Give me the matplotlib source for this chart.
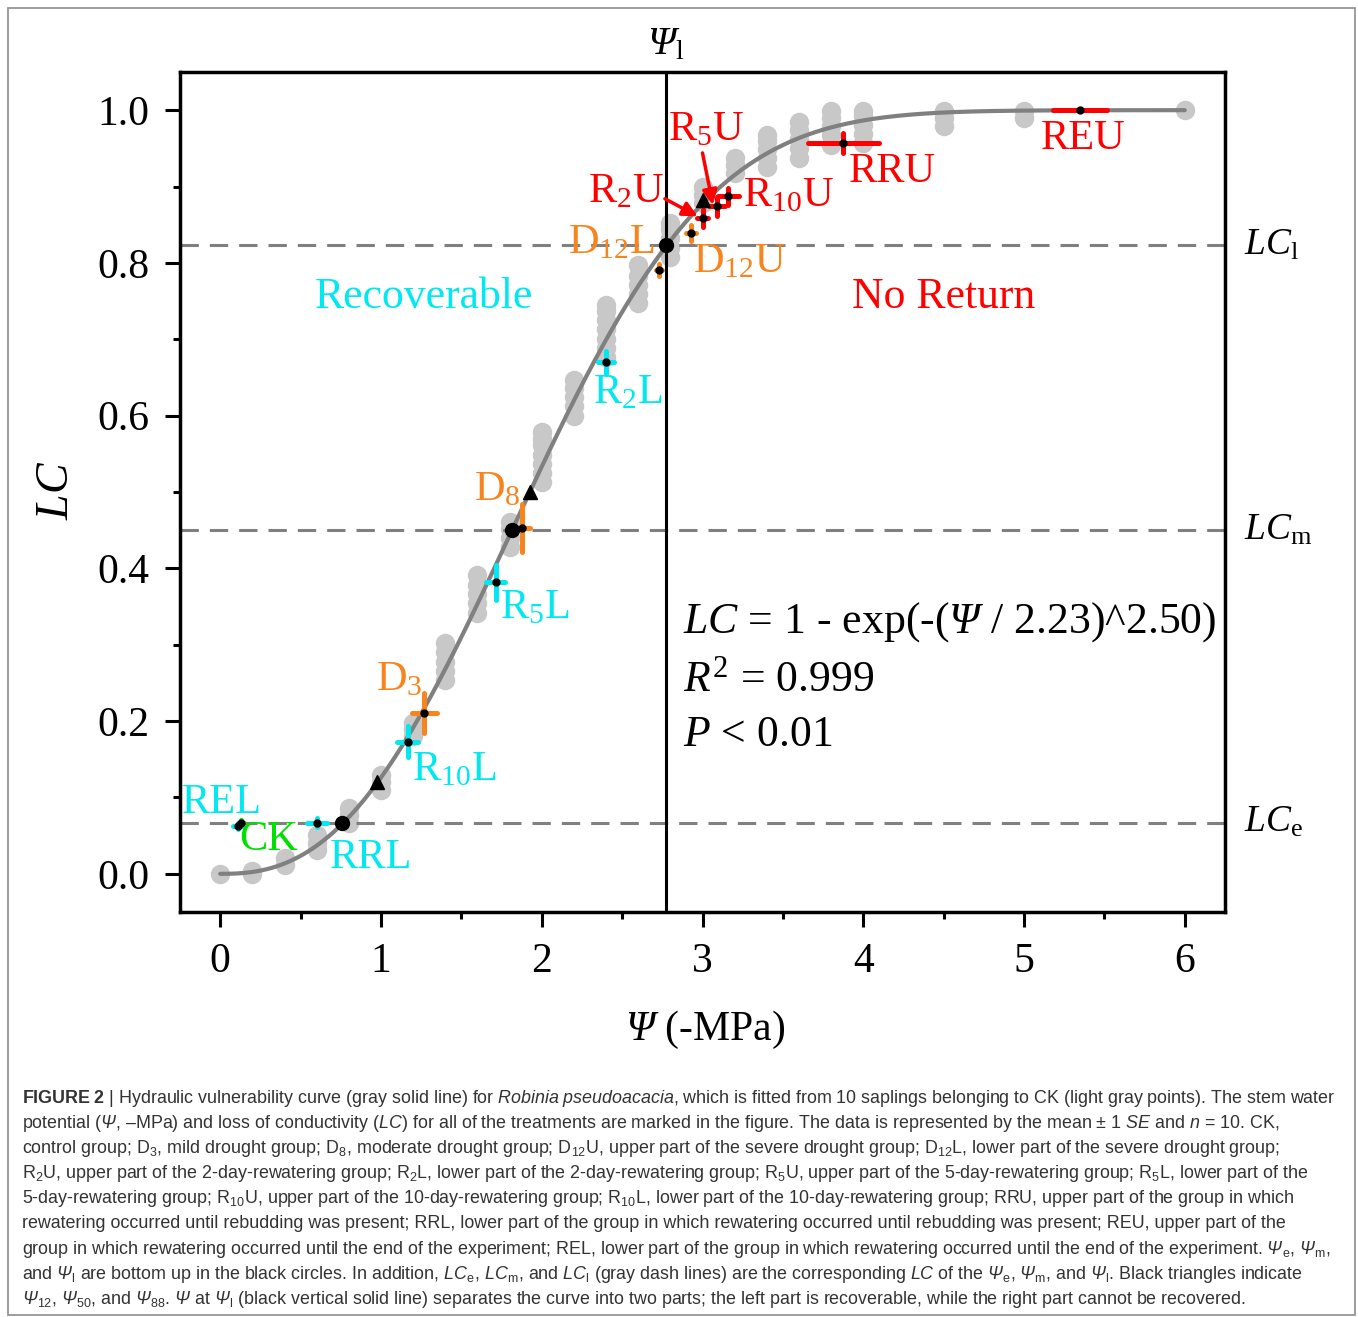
import numpy as np
import matplotlib
matplotlib.use('Agg')
import matplotlib.pyplot as plt
from matplotlib.patches import Rectangle

plt.rcParams['font.family'] = ['Liberation Serif', 'DejaVu Serif']
plt.rcParams['mathtext.fontset'] = 'custom'
plt.rcParams['mathtext.default'] = 'regular'
plt.rcParams['mathtext.rm'] = 'Liberation Serif'
plt.rcParams['mathtext.it'] = 'Liberation Serif:italic'
plt.rcParams['mathtext.cal'] = 'Liberation Serif:italic'   # italic serif Psi
plt.rcParams['mathtext.sf'] = 'Liberation Sans:italic'     # italic sans (caption)
plt.rcParams['mathtext.bf'] = 'Liberation Sans:bold'

# ── fitted curve parameters (as printed on the chart)
fit_b = 2.23
fit_c = 2.50

# ── CK sapling points (light gray), LC values per water potential level
ck_psi = [0.0, 0.2, 0.4, 0.6, 0.8, 1.0, 1.2, 1.4, 1.6, 1.8, 2.0, 2.2,
          2.4, 2.6, 2.8, 3.0, 3.2, 3.4, 3.6, 3.8, 4.0, 4.5, 5.0, 6.0]
ck_lc = [
    [0.0],
    [0.0, 0.004],
    [0.012, 0.021],
    [0.031, 0.041, 0.051],
    [0.067, 0.077, 0.086],
    [0.110, 0.120, 0.130],
    [0.180, 0.190, 0.198],
    [0.254, 0.266, 0.278, 0.290, 0.302],
    [0.342, 0.354, 0.366, 0.378, 0.391],
    [0.428, 0.440, 0.452, 0.461],
    [0.513, 0.525, 0.537, 0.549, 0.561, 0.570, 0.579],
    [0.600, 0.612, 0.624, 0.636, 0.647],
    [0.677, 0.689, 0.701, 0.713, 0.725, 0.737, 0.745],
    [0.747, 0.759, 0.771, 0.783, 0.797],
    [0.808, 0.820, 0.832, 0.844, 0.852],
    [0.878, 0.889, 0.899],
    [0.918, 0.928, 0.938],
    [0.925, 0.937, 0.949, 0.960, 0.967],
    [0.938, 0.950, 0.962, 0.974, 0.984],
    [0.955, 0.967, 0.979, 0.990, 0.999],
    [0.957, 0.969, 0.981, 0.992, 0.999],
    [0.979, 0.990, 0.999],
    [0.990, 0.999],
    [1.0],
]

# ── Psi_e, Psi_m, Psi_l (black circles) and Psi_12, Psi_50, Psi_88 (triangles)
thr_psi = [0.76, 1.813, 2.773]
thr_lc = [0.0668, 0.450, 0.823]
tri_psi = [0.978, 1.925, 3.003]
tri_lc = [0.120, 0.500, 0.882]

# ── treatment means ± SE
trt_name = ['CK', 'REL', 'RRL', 'R10L', 'D3', 'R5L', 'D8', 'R2L',
            'D12L', 'D12U', 'R2U', 'R5U', 'R10U', 'RRU', 'REU']
trt_psi = [0.13, 0.108, 0.602, 1.167, 1.27, 1.713, 1.88, 2.40,
           2.73, 2.93, 3.00, 3.09, 3.16, 3.875, 5.346]
trt_lc = [0.066, 0.063, 0.0668, 0.173, 0.211, 0.382, 0.453, 0.670,
          0.791, 0.839, 0.859, 0.874, 0.887, 0.957, 1.0]
trt_psi_se = [0.02, 0.03, 0.06, 0.065, 0.08, 0.06, 0.045, 0.047,
              0.02, 0.03, 0.035, 0.05, 0.065, 0.22, 0.167]
trt_lc_se = [0.004, 0.004, 0.006, 0.02, 0.026, 0.023, 0.031, 0.015,
             0.008, 0.01, 0.012, 0.012, 0.011, 0.013, 0.0]
trt_color = ['#00E000', '#00E8F0', '#00E8F0', '#00E8F0', '#F8841E', '#00E8F0',
             '#F8841E', '#00E8F0', '#F8841E', '#F8841E', '#FF0000', '#FF0000',
             '#FF0000', '#FF0000', '#FF0000']

# label text and where it sits (data coords)
lab_text = {'CK': 'CK', 'REL': 'REL', 'RRL': 'RRL', 'R10L': 'R$_{10}$L',
            'D3': 'D$_{3}$', 'R5L': 'R$_{5}$L', 'D8': 'D$_{8}$', 'R2L': 'R$_{2}$L',
            'D12L': 'D$_{12}$L', 'D12U': 'D$_{12}$U', 'R2U': 'R$_{2}$U',
            'R5U': 'R$_{5}$U', 'R10U': 'R$_{10}$U', 'RRU': 'RRU', 'REU': 'REU'}
lab_x = {'CK': 0.118, 'REL': -0.237, 'RRL': 0.68, 'R10L': 1.196, 'D3': 0.972,
         'R5L': 1.738, 'D8': 1.576, 'R2L': 2.318, 'D12L': 2.162, 'D12U': 2.94,
         'R2U': 2.287, 'R5U': 2.785, 'R10U': 3.252, 'RRU': 3.907, 'REU': 5.103}
lab_y = {'CK': 0.045, 'REL': 0.093, 'RRL': 0.021, 'R10L': 0.136, 'D3': 0.254,
         'R5L': 0.348, 'D8': 0.503, 'R2L': 0.630, 'D12L': 0.826, 'D12U': 0.801,
         'R2U': 0.893, 'R5U': 0.974, 'R10U': 0.887, 'RRU': 0.919, 'REU': 0.963}

caption = [
    r"$\mathbf{FIGURE\ 2}$ | Hydraulic vulnerability curve (gray solid line) for $\mathsf{Robinia\ pseudoacacia}$, which is fitted from 10 saplings belonging to CK (light gray points). The stem water",
    r"potential ($\mathsf{\Psi}$, –MPa) and loss of conductivity ($\mathsf{LC}$) for all of the treatments are marked in the figure. The data is represented by the mean ± 1 $\mathsf{SE}$ and $\mathsf{n}$ = 10. CK,",
    r"control group; D$_{3}$, mild drought group; D$_{8}$, moderate drought group; D$_{12}$U, upper part of the severe drought group; D$_{12}$L, lower part of the severe drought group;",
    r"R$_{2}$U, upper part of the 2-day-rewatering group; R$_{2}$L, lower part of the 2-day-rewatering group; R$_{5}$U, upper part of the 5-day-rewatering group; R$_{5}$L, lower part of the",
    r"5-day-rewatering group; R$_{10}$U, upper part of the 10-day-rewatering group; R$_{10}$L, lower part of the 10-day-rewatering group; RRU, upper part of the group in which",
    "rewatering occurred until rebudding was present; RRL, lower part of the group in which rewatering occurred until rebudding was present; REU, upper part of the",
    r"group in which rewatering occurred until the end of the experiment; REL, lower part of the group in which rewatering occurred until the end of the experiment. $\mathsf{\Psi}_{e}$, $\mathsf{\Psi}_{m}$,",
    r"and $\mathsf{\Psi}_{l}$ are bottom up in the black circles. In addition, $\mathsf{LC}_{e}$, $\mathsf{LC}_{m}$, and $\mathsf{LC}_{l}$ (gray dash lines) are the corresponding $\mathsf{LC}$ of the $\mathsf{\Psi}_{e}$, $\mathsf{\Psi}_{m}$, and $\mathsf{\Psi}_{l}$. Black triangles indicate",
    r"$\mathsf{\Psi}_{12}$, $\mathsf{\Psi}_{50}$, and $\mathsf{\Psi}_{88}$. $\mathsf{\Psi}$ at $\mathsf{\Psi}_{l}$ (black vertical solid line) separates the curve into two parts; the left part is recoverable, while the right part cannot be recovered.",
]

W, H = 1358, 1317
fig = plt.figure(figsize=(W / 100, H / 100), dpi=100)
ax = fig.add_axes([180 / W, 1 - 912 / H, 1045 / W, 840 / H])

# gray sapling points
for p, vals in zip(ck_psi, ck_lc):
    ax.plot([p] * len(vals), vals, 'o', ms=14, color='#C8C8C8', mec='none', zorder=1)

# fitted curve
xx = np.linspace(0, 6, 400)
ax.plot(xx, 1 - np.exp(-(xx / fit_b) ** fit_c), color='#808080', lw=3, zorder=3,
        solid_capstyle='round')

# threshold lines
for v in thr_lc:
    ax.axhline(v, color='#808080', lw=2.2, dashes=(6, 3.6), zorder=2)
ax.axvline(thr_psi[2], color='black', lw=2.2, zorder=3)

# treatments
for i, name in enumerate(trt_name):
    eb = ax.errorbar(trt_psi[i], trt_lc[i], xerr=trt_psi_se[i], yerr=trt_lc_se[i],
                     fmt='o', ms=5, color='black', ecolor=trt_color[i],
                     elinewidth=3.6, capsize=0, zorder=4)
    for lc in eb[2]:
        lc.set_capstyle('round')
        lc.set_zorder(4)
    ax.text(lab_x[name], lab_y[name], lab_text[name], color=trt_color[i],
            fontsize=30.5, ha='left', va='center', zorder=6)

ax.plot(thr_psi, thr_lc, 'o', ms=10, color='black', zorder=5)
ax.plot(tri_psi, tri_lc, '^', ms=10, color='black', zorder=5)

# arrows for R2U and R5U
ax.annotate('', xy=(2.97, 0.861), xytext=(2.766, 0.884),
            arrowprops=dict(arrowstyle='-|>', color='#FF0000', lw=2.5,
                            mutation_scale=22, shrinkA=0, shrinkB=0), zorder=6)
ax.annotate('', xy=(3.065, 0.876), xytext=(3.0, 0.944),
            arrowprops=dict(arrowstyle='-|>', color='#FF0000', lw=2.5,
                            mutation_scale=22, shrinkA=0, shrinkB=0), zorder=6)

# region labels
ax.text(1.265, 0.755, 'Recoverable', color='#00E8F0', fontsize=31.5, ha='center', va='center')
ax.text(4.50, 0.755, 'No Return', color='#FF0000', fontsize=31.5, ha='center', va='center')

# equation block
ax.text(2.878, 0.330, r'$\mathit{LC}$ = 1 - exp(-($\mathcal{\Psi}$ / 2.23)^2.50)',
        fontsize=31.5, ha='left', va='center')
ax.text(2.878, 0.253, r'$\mathit{R}^{2}$ = 0.999', fontsize=31.5, ha='left', va='center')
ax.text(2.878, 0.182, r'$\mathit{P}$ < 0.01', fontsize=31.5, ha='left', va='center')

# right-hand LC labels and top Psi_l label
for v, s in zip(thr_lc, ['e', 'm', 'l']):
    ax.text(6.37, v, r'$\mathit{LC}_{%s}$' % s, fontsize=27, ha='left', va='center',
            clip_on=False)
ax.text(thr_psi[2], 1.085, r'$\mathcal{\Psi}_{l}$', fontsize=29, ha='center',
        va='center', clip_on=False)

# axes
ax.set_xlim(-0.25, 6.25)
ax.set_ylim(-0.05, 1.05)
ax.set_xticks(np.arange(0, 7, 1))
ax.set_xticks(np.arange(0.5, 6.5, 1), minor=True)
ax.set_yticks(np.arange(0, 1.01, 0.2))
ax.set_yticks(np.arange(0.1, 1.0, 0.2), minor=True)
ax.set_yticklabels(['0.0', '0.2', '0.4', '0.6', '0.8', '1.0'])
ax.tick_params(which='both', direction='out', width=2.2, labelsize=30)
ax.tick_params(which='major', length=11, pad=11)
ax.tick_params(which='minor', length=5)
for sp in ax.spines.values():
    sp.set_linewidth(2.5)

ax.set_xlabel(r'$\mathcal{\Psi}$ (-MPa)', fontsize=30)
ax.xaxis.set_label_coords(0.502, -0.14)
ax.xaxis.label.set_va('center')
ax.set_ylabel(r'$\mathit{LC}$', fontsize=33)
ax.yaxis.set_label_coords(-0.118, 0.502)
ax.yaxis.label.set_va('center')

# caption
for k, line in enumerate(caption):
    fig.text(22 / W, 1 - (1103 + 25.1 * k) / H, line, fontsize=12.9,
             family='Liberation Sans', color='#333333', ha='left', va='baseline')

# outer frame
fig.patches.append(Rectangle((8 / W, 2 / H), (1355 - 8) / W, (1315 - 8) / H,
                             transform=fig.transFigure, fill=False,
                             ec='#8C8C8C', lw=1.2))

fig.savefig('out.png', dpi=100)
